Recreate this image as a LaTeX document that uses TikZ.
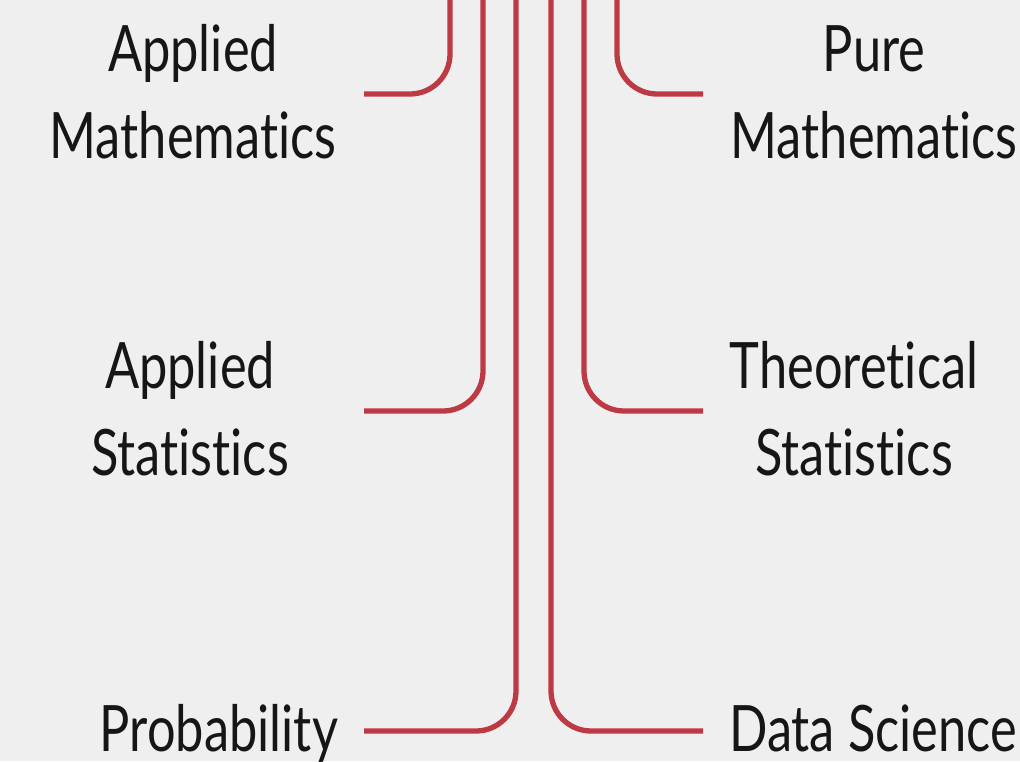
\documentclass[tikz,border=0pt]{standalone}
\usepackage{fontspec}
\setmainfont{Lato}[FakeStretch=0.79,Ligatures={NoCommon,NoRare}]
\definecolor{bgc}{RGB}{239,239,239}
\definecolor{linec}{RGB}{189,58,68}
\definecolor{txtc}{RGB}{22,22,22}
\tikzset{
  conn/.style={draw=linec, line width=5.3pt, rounded corners=40pt},
  lbl/.style={text=txtc, align=center, inner sep=0pt, anchor=base,
    font=\fontsize{64}{87}\selectfont}
}
\begin{document}
\begin{tikzpicture}[x=1pt,y=-1pt]
\fill[bgc] (0,0) rectangle (1020,761);
\useasboundingbox (0,0) rectangle (1020,761);
% top ends
\coordinate (t1) at (450,-5);
\coordinate (t2) at (483,-5);
\coordinate (t3) at (516,-5);
\coordinate (t4) at (551,-5);
\coordinate (t5) at (584,-5);
\coordinate (t6) at (617,-5);
% free ends
\coordinate (e1) at (364,94);
\coordinate (e2) at (364,411);
\coordinate (e3) at (364,731);
\coordinate (e4) at (703,731);
\coordinate (e5) at (703,411);
\coordinate (e6) at (703,94);
% labels (base anchor = baseline of last line)
\node[lbl] (am) at (193,158) {Applied\\Mathematics};
\node[lbl] (as) at (190,475) {Applied\\Statistics};
\node[lbl] (pr) at (219,751) {Probability};
\node[lbl] (pm) at (874,158) {Pure\\Mathematics};
\node[lbl] (ts) at (854,475) {Theoretical\\Statistics};
\node[lbl] (ds) at (873,751) {Data Science};
% connectors
\draw[conn] (t1) |- (e1);
\draw[conn] (t2) |- (e2);
\draw[conn] (t3) |- (e3);
\draw[conn] (t4) |- (e4);
\draw[conn] (t5) |- (e5);
\draw[conn] (t6) |- (e6);
\end{tikzpicture}
\end{document}
